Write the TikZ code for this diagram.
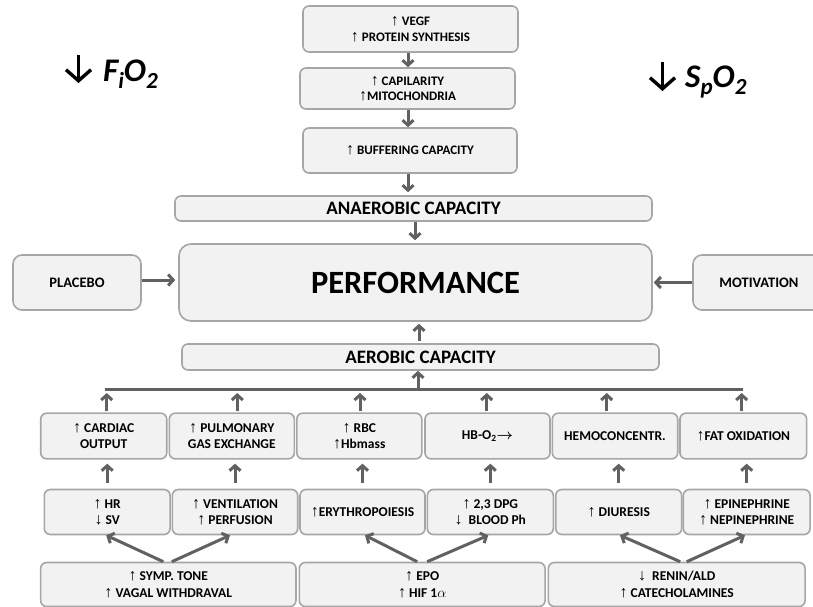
\documentclass[tikz,border=0pt]{standalone}
\usepackage{fontspec}
\setmainfont{Carlito}
\newfontfamily\arrfont{Liberation Sans}
\usetikzlibrary{arrows.meta}
\definecolor{boxfill}{HTML}{F2F2F2}
\definecolor{boxline}{HTML}{A6A6A6}
\definecolor{arrgray}{HTML}{616161}
\newcommand{\upar}{{\arrfont\fontsize{16}{16}\selectfont ↑}}
\newcommand{\dnar}{{\arrfont\fontsize{16}{16}\selectfont ↓}}
\newcommand{\sbs}[1]{\raisebox{-7pt}{\fontsize{23}{23}\selectfont #1}}
\tikzset{
  box/.style={draw=boxline, fill=boxfill, line width=1.6pt, rounded corners=6pt,
    inner sep=0pt, align=center, text=black,
    font=\bfseries\fontsize{13.5}{16.5}\selectfont},
  topbox/.style={box, font=\bfseries\fontsize{13}{15.5}\selectfont},
  link/.style={draw=arrgray, line width=3pt, -{Straight Barb[length=5pt,width=11pt]}},
  barline/.style={draw=arrgray, line width=3pt},
  bigtext/.style={anchor=base west, inner sep=0pt, font=\bfseries\itshape\fontsize{33}{35}\selectfont},
  downmark/.style={draw=black, line width=3.4pt, -{Straight Barb[length=11pt,width=25pt]}}
}
\begin{document}
\begin{tikzpicture}[x=1pt,y=-1pt]
\fill[white] (0,0) rectangle (813,607);
\useasboundingbox (0,0) rectangle (813,607);

% headings: falling inspired fraction and saturation
\node[bigtext] (fio2) at (103,82) {F\sbs{i}O\sbs{2}};
\node[bigtext] (spo2) at (685,88) {S\sbs{p}O\sbs{2}};
\coordinate (fa1) at (78.5,55);
\coordinate (fa2) at (78.5,83);
\coordinate (sa1) at (662.5,62);
\coordinate (sa2) at (662.5,91);
\draw[downmark] (fa1) -- (fa2);
\draw[downmark] (sa1) -- (sa2);

% anaerobic branch
\node[topbox, minimum width=215pt, minimum height=46pt] (vegf) at (410.5,29) {\upar\ VEGF\\\upar\ PROTEIN SYNTHESIS};
\node[topbox, minimum width=215pt, minimum height=41pt] (capil) at (407.5,88.5) {\upar\ CAPILARITY\\\upar MITOCHONDRIA};
\node[topbox, minimum width=214pt, minimum height=45pt] (buff) at (410,150.5) {\upar\ BUFFERING CAPACITY};
\node[box, minimum width=477pt, minimum height=25pt, font=\bfseries\fontsize{19}{22}\selectfont] (anaer) at (413.5,208.5) {ANAEROBIC CAPACITY};

% centre row
\node[box, minimum width=473pt, minimum height=77pt, rounded corners=12pt, font=\bfseries\fontsize{32.5}{36}\selectfont] (perf) at (415.5,282.5) {PERFORMANCE};
\node[box, minimum width=128pt, minimum height=55pt, rounded corners=9pt, font=\bfseries\fontsize{14.5}{17}\selectfont] (placebo) at (77,282.5) {PLACEBO};
\node[box, minimum width=132pt, minimum height=55pt, rounded corners=9pt, font=\bfseries\fontsize{14.5}{17}\selectfont] (motiv) at (759,282.5) {MOTIVATION};

% aerobic branch
\node[box, minimum width=477pt, minimum height=26pt, font=\bfseries\fontsize{19}{22}\selectfont] (aer) at (420.5,357) {AEROBIC CAPACITY};

% first row of effects
\node[box, minimum width=126pt, minimum height=45.7pt] (cardiac) at (103.7,436) {\upar\ CARDIAC\\OUTPUT};
\node[box, minimum width=125pt, minimum height=45.7pt] (pulm) at (231.8,436) {\upar\ PULMONARY\\GAS EXCHANGE};
\node[box, minimum width=125pt, minimum height=45.7pt] (rbc) at (359.3,436) {\upar\ RBC\\\upar Hbmass};
\node[box, minimum width=125pt, minimum height=45.7pt] (hbo) at (487.5,436) {HB-O\textsubscript{2}{\boldmath$\rightarrow$}};
\node[box, minimum width=125.4pt, minimum height=45.7pt] (hemo) at (615,436) {HEMOCONCENTR.};
\node[box, minimum width=126.7pt, minimum height=45.7pt] (fat) at (743.3,436) {\upar FAT OXIDATION};

% second row of effects
\node[box, minimum width=125.7pt, minimum height=45pt] (hr) at (107.2,512) {\upar\ HR\\\dnar\ SV};
\node[box, minimum width=125.4pt, minimum height=45pt] (vent) at (235,512) {\upar\ VENTILATION\\\upar\ PERFUSION};
\node[box, minimum width=125pt, minimum height=45pt] (ery) at (362.5,512) {\upar ERYTHROPOIESIS};
\node[box, minimum width=126pt, minimum height=45pt] (dpg) at (490.3,512) {\upar\ 2,3 DPG\\\dnar\ \ BLOOD Ph};
\node[box, minimum width=126pt, minimum height=45pt] (diur) at (618.7,512) {\upar\ DIURESIS};
\node[box, minimum width=126.7pt, minimum height=45pt] (epi) at (746.7,512) {\upar\ EPINEPHRINE\\\upar\ NEPINEPHRINE};

% triggers
\node[box, minimum width=255.3pt, minimum height=44pt] (symp) at (168.3,584.5) {\upar\ SYMP. TONE\\\upar\ VAGAL WITHDRAVAL};
\node[box, minimum width=245.7pt, minimum height=44pt] (epo) at (422.2,584.5) {\upar\ EPO\\\upar\ HIF 1$\alpha$};
\node[box, minimum width=256.7pt, minimum height=44pt] (renin) at (676.7,584.5) {\dnar\ \ RENIN/ALD\\\upar\ CATECHOLAMINES};

% vertical spine of the anaerobic branch
\coordinate (spine) at (408,0);
\draw[link] (vegf.south -| spine) -- (capil.north -| spine);
\draw[link] (capil.south -| spine) -- (buff.north -| spine);
\draw[link] (buff.south -| spine) -- ([yshift=3pt]anaer.north -| spine);
\coordinate (spineb) at (415,0);
\draw[link] (anaer.south -| spineb) -- ([yshift=3pt]perf.north -| spineb);

% side influences
\draw[link] (placebo.east |- 0,280) -- ([xshift=-3pt]perf.west |- 0,280);
\draw[link] (motiv.west |- 0,282.5) -- ([xshift=1pt]perf.east |- 0,282.5);

% aerobic collector bar
\coordinate (t1) at (106.7,389.5);
\coordinate (t2) at (237.3,389.5);
\coordinate (t3) at (360,389.5);
\coordinate (t4) at (486.7,389.5);
\coordinate (t5) at (606.7,389.5);
\coordinate (t6) at (741.7,389.5);
\coordinate (tm) at (418,389.5);
\draw[barline] ([xshift=-1.5pt]t1) -- ([xshift=1.5pt]t6);
\draw[link] (tm) -- (aer.south -| tm);
\draw[link] ([yshift=2pt]aer.north -| 419,0) -- ([yshift=-2pt]perf.south -| 419,0);
\foreach \b/\t in {cardiac/t1, pulm/t2, rbc/t3, hbo/t4, hemo/t5, fat/t6}
  \draw[link] ([yshift=1.5pt]\b.north -| \t) -- ([yshift=-3.5pt]\t);

% second row to first row
\foreach \a/\b in {hr/cardiac, vent/pulm, ery/rbc, dpg/hbo, diur/hemo, epi/fat}
  \draw[link] ([yshift=6pt]\a.north) -- ([yshift=-4pt]\b.south -| \a.north);

% triggers to second row
\draw[link] ([xshift=-5pt]symp.north) -- ([xshift=-1pt]hr.south);
\draw[link] ([xshift=3.5pt]symp.north) -- ([xshift=-5pt]vent.south);
\draw[link] ([xshift=-5pt]epo.north) -- ([xshift=2.5pt]ery.south);
\draw[link] ([xshift=5pt]epo.north) -- ([xshift=-2pt]dpg.south);
\draw[link] ([xshift=3.5pt]renin.north) -- ([xshift=1.3pt]diur.south);
\draw[link] ([xshift=10pt]renin.north) -- ([xshift=-1.7pt]epi.south);
\end{tikzpicture}
\end{document}
